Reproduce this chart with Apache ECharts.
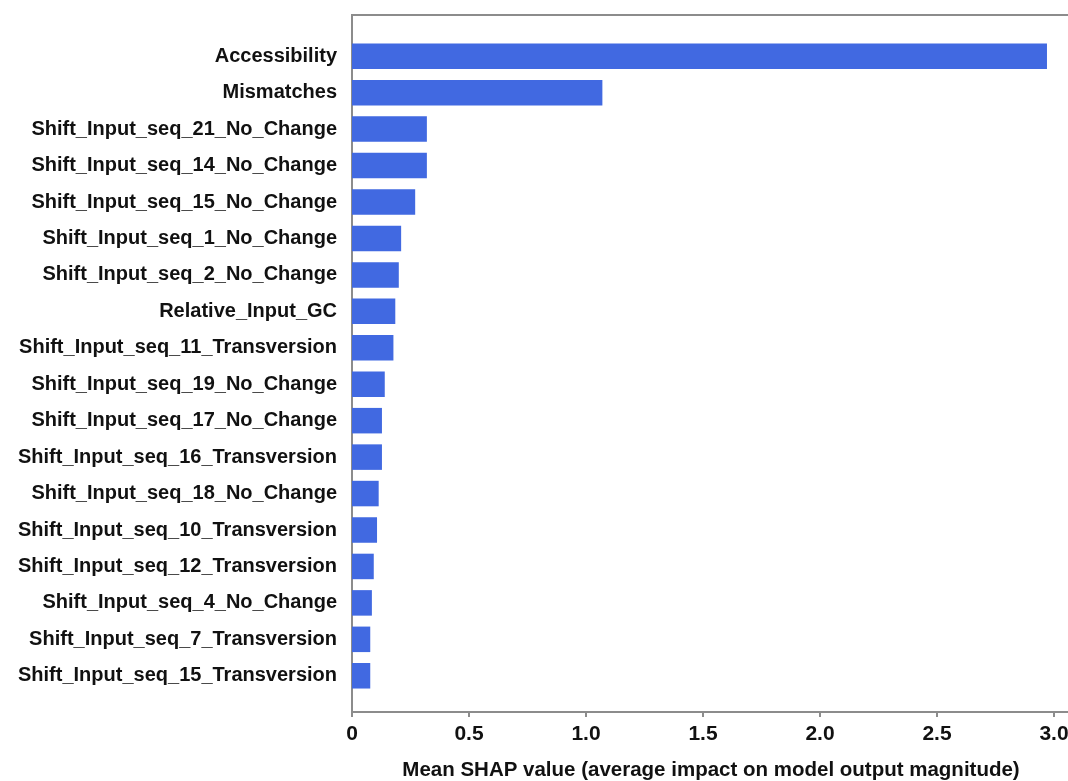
<!DOCTYPE html>
<html>
<head>
<meta charset="utf-8">
<title>Mean SHAP value</title>
<script src="https://cdn.jsdelivr.net/npm/echarts@6/dist/echarts.min.js"></script>
<style>
  html, body { margin: 0; padding: 0; background: #fff; }
  #chart { width: 1068px; height: 781px; }
</style>
</head>
<body>
<div id="chart"></div>
<script>
// feature names, top to bottom
const features = [
  'Accessibility',
  'Mismatches',
  'Shift_Input_seq_21_No_Change',
  'Shift_Input_seq_14_No_Change',
  'Shift_Input_seq_15_No_Change',
  'Shift_Input_seq_1_No_Change',
  'Shift_Input_seq_2_No_Change',
  'Relative_Input_GC',
  'Shift_Input_seq_11_Transversion',
  'Shift_Input_seq_19_No_Change',
  'Shift_Input_seq_17_No_Change',
  'Shift_Input_seq_16_Transversion',
  'Shift_Input_seq_18_No_Change',
  'Shift_Input_seq_10_Transversion',
  'Shift_Input_seq_12_Transversion',
  'Shift_Input_seq_4_No_Change',
  'Shift_Input_seq_7_Transversion',
  'Shift_Input_seq_15_Transversion'
]

// mean |SHAP| per feature
const meanShap = [
  2.97, 1.07, 0.32, 0.32, 0.27, 0.21, 0.20, 0.185, 0.177,
  0.14, 0.128, 0.128, 0.114, 0.107, 0.093, 0.085, 0.078, 0.078
]

const xTickLabels = ['0', '0.5', '1.0', '1.5', '2.0', '2.5', '3.0']
const xTitle = 'Mean SHAP value (average impact on model output magnitude)'

const axisGray = '#8c8c8c'
const textColor = '#111111'
const barBlue = '#4169e1'

const chart = echarts.init(document.getElementById('chart'))

chart.setOption({
  animation: false,
  backgroundColor: '#ffffff',
  grid: [
    // x axis (0 .. 3)
    { left: 352, right: 14, top: 15, bottom: 69, outerBoundsMode: 'none' },
    // bars, with some padding above and below
    { left: 352, right: 14, top: 38, bottom: 87, outerBoundsMode: 'none' },
    // frame: left, top and bottom lines, right edge runs off the page
    { left: 352, width: 740, top: 15, bottom: 69, show: true,
      outerBoundsMode: 'none',
      borderColor: axisGray, borderWidth: 2, backgroundColor: 'transparent' }
  ],
  xAxis: [
    {
      gridIndex: 0,
      type: 'value',
      min: 0,
      max: 3,
      interval: 0.5,
      splitLine: { show: false },
      axisLine: { show: true, lineStyle: { color: axisGray, width: 2 } },
      axisTick: { show: true, length: 5, lineStyle: { color: axisGray, width: 2 } },
      axisLabel: {
        color: textColor,
        fontFamily: 'Liberation Sans, Arial, sans-serif',
        fontSize: 21,
        fontWeight: 'bold',
        margin: 12,
        formatter: v => xTickLabels[Math.round(v / 0.5)]
      },
      name: xTitle,
      nameLocation: 'middle',
      nameGap: 48,
      nameTextStyle: {
        color: textColor,
        fontFamily: 'Liberation Sans, Arial, sans-serif',
        fontSize: 20.5,
        fontWeight: 'bold',
        padding: [0, 0, 0, 16]
      }
    },
    { gridIndex: 1, type: 'value', min: 0, max: 3, show: false },
    { gridIndex: 2, type: 'value', show: false }
  ],
  yAxis: [
    { gridIndex: 0, type: 'value', show: false },
    {
      gridIndex: 1,
      type: 'category',
      inverse: true,
      data: features,
      axisLine: { show: false },
      axisTick: { show: false },
      splitLine: { show: false },
      axisLabel: {
        color: textColor,
        fontFamily: 'Liberation Sans, Arial, sans-serif',
        fontSize: 20,
        fontWeight: 'bold',
        margin: 15
      }
    },
    { gridIndex: 2, type: 'value', show: false }
  ],
  series: [
    {
      type: 'bar',
      xAxisIndex: 1,
      yAxisIndex: 1,
      data: meanShap,
      barCategoryGap: '30%',
      itemStyle: { color: barBlue }
    }
  ]
})
</script>
</body>
</html>
